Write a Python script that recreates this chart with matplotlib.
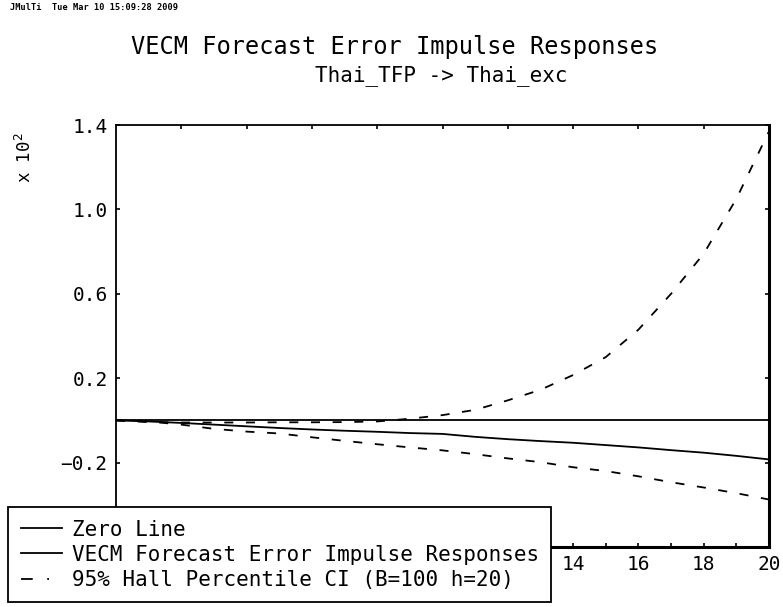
import matplotlib
matplotlib.use("Agg")
import matplotlib.pyplot as plt
from matplotlib.lines import Line2D
import numpy as np

# horizon and responses (scaled by 10^2)
horizon = np.arange(0, 21)
irf = [0.0, -0.005, -0.012, -0.020, -0.028, -0.036, -0.043, -0.049, -0.054, -0.060,
       -0.064, -0.078, -0.089, -0.098, -0.106, -0.117, -0.128, -0.141, -0.153, -0.168, -0.185]
ci_upper = [0.0, -0.008, -0.010, -0.010, -0.010, -0.009, -0.009, -0.008, -0.005, 0.008,
            0.025, 0.050, 0.095, 0.145, 0.215, 0.300, 0.430, 0.600, 0.790, 1.050, 1.370]
ci_lower = [0.0, -0.005, -0.020, -0.040, -0.053, -0.062, -0.080, -0.097, -0.113, -0.128,
            -0.142, -0.160, -0.180, -0.198, -0.222, -0.240, -0.265, -0.293, -0.318, -0.345, -0.375]
zero = [0.0] * len(horizon)

yticks = [-0.2, 0.2, 0.6, 1.0, 1.4]
xticks = [2, 4, 6, 8, 10, 12, 14, 16, 18, 20]
xticklabels = ["", "", "", "", "", "", "14", "16", "18", "20"]

title = "VECM Forecast Error Impulse Responses"
subtitle = "Thai_TFP -> Thai_exc"
legend_labels = ["Zero Line", "VECM Forecast Error Impulse Responses",
                 "95% Hall Percentile CI (B=100 h=20)"]

plt.rcParams['font.family'] = ['DejaVu Sans Mono', 'DejaVu Sans']

fig = plt.figure(figsize=(7.83, 6.07), dpi=100)
ax = fig.add_axes([116/783, 1-547/607, (769-116)/783, (547-125)/607])

l1, = ax.plot(horizon, zero, color='black', lw=1.3)
l2, = ax.plot(horizon, irf, color='black', lw=1.3)
ax.plot(horizon, ci_upper, color='black', lw=1.3, dashes=(5, 7))
ax.plot(horizon, ci_lower, color='black', lw=1.3, dashes=(5, 7))

ax.set_xlim(0, 20)
ax.set_ylim(-0.6, 1.4)
ax.set_xticks(xticks)
ax.set_xticklabels(xticklabels)
ax.set_xticks(np.arange(1, 20, 2), minor=True)
ax.set_yticks(yticks)
ax.set_yticklabels([f"{v:.1f}".replace("-", "\u2212") for v in yticks])
ax.tick_params(which='both', direction='in', length=3, width=1.2, top=True, right=True,
               labelsize=14, pad=6)
ax.tick_params(axis='x', which='minor', top=False)

for side in ['left', 'top']:
    ax.spines[side].set_linewidth(1.3)
for side in ['right', 'bottom']:
    ax.spines[side].set_linewidth(2.2)

fig.text(0.504, 1-47/607, title, ha='center', va='center', fontsize=17)
fig.text(0.563, 1-76/607, subtitle, ha='center', va='center', fontsize=15)
fig.text(25/783, 1-158/607, r"x 10$^2$", rotation=90, ha='center', va='center', fontsize=12.5)
fig.text(10/783, 1-8/607, "JMulTi  Tue Mar 10 15:09:28 2009", ha='left', va='center',
         fontsize=6.2, fontweight='bold')

ci_proxy = Line2D([], [], color='black', lw=1.3, dashes=(6.5, 8, 1, 30))
leg = ax.legend([l1, l2, ci_proxy], legend_labels, loc='upper left',
                bbox_to_anchor=(8/783, 1-507/607), bbox_transform=fig.transFigure,
                frameon=True, fancybox=False, edgecolor='black', framealpha=1,
                fontsize=15, handlelength=2.0, handletextpad=0.45, borderaxespad=0,
                labelspacing=0.25, borderpad=0.6)
leg.get_frame().set_linewidth(1.3)
leg.set_zorder(10)

fig.savefig("out.png", dpi=100)
